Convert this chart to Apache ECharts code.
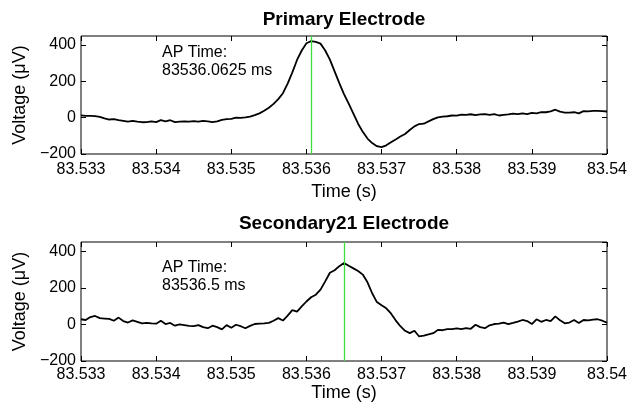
<!DOCTYPE html>
<html>
<head>
<meta charset="utf-8">
<script src="https://cdn.jsdelivr.net/npm/echarts@6/dist/echarts.min.js"></script>
<style>
  html, body { margin: 0; background: #fff; }
  #chart { width: 629px; height: 403px; }
</style>
</head>
<body>
<div id="chart"></div>
<script>
// sampling grid (ms), 16 kHz
const startTime = 83533;
const samplePeriod = 0.0625;

// voltages in µV, one per sample
const primaryVoltage = [
  13, 10, 10, 9, 4, -4, -10, -8, -14, -18,
  -22, -18, -22, -25, -24, -20, -24, -13, -20, -14,
  -24, -22, -20, -22, -19, -22, -18, -20, -24, -20,
  -12, -8, -6, 0, -1, 2, 6, 14, 24, 38,
  55, 76, 102, 135, 188, 250, 318, 370, 410, 422,
  418, 408, 370, 320, 255, 190, 130, 78, 22, -33,
  -78, -115, -140, -157, -162, -152, -135, -120, -104, -90,
  -68, -48, -35, -33, -20, -8, 2, 6, 8, 12,
  11, 17, 16, 19, 14, 18, 20, 15, 20, 12,
  16, 18, 22, 20, 24, 20, 26, 24, 30, 30,
  35, 44, 33, 28, 28, 30, 24, 36, 35, 37,
  38, 36, 34
];
const secondaryVoltage = [
  28, 24, 40, 46, 34, 32, 30, 20, 37, 18,
  10, 22, 14, 6, 8, 5, 4, 20, 2, 8,
  -7, 0, -4, -8, -10, -4, -15, -21, -7, -15,
  -27, -4, -18, -2, -10, -21, -8, 2, 4, 5,
  8, 20, 34, 21, 48, 78, 70, 98, 125, 148,
  162, 190, 235, 282, 296, 318, 335, 320, 306, 292,
  272, 230, 170, 122, 104, 88, 60, 22, -10, -35,
  -48, -35, -66, -62, -55, -48, -30, -32, -26, -26,
  -22, -26, -20, -24, -2, -15, -21, -5, 2, 4,
  10, 2, 8, 15, 24, 18, 2, 28, 14, 24,
  18, 44, 22, 6, 10, 24, 8, 24, 22, 26,
  28, 20, 10
];

// AP detection times (ms)
const primaryApTime = 83536.0625;
const secondaryApTime = 83536.5;

const titles = ['Primary Electrode', 'Secondary21 Electrode'];
const apLabels = ['AP Time:\n83536.0625 ms', 'AP Time:\n83536.5 ms'];

function toPairs(values) {
  return values.map((v, i) => [startTime + i * samplePeriod, v]);
}

const font = "'Liberation Sans', Arial, Helvetica, sans-serif";
const grids = [
  { left: 81, top: 36, width: 526, height: 118 },
  { left: 81, top: 242, width: 526, height: 119 },
];
const timeNameGap = [29, 23];
const timeLabelMargin = [8, 6];

const xAxes = [];
const yAxes = [];
grids.forEach((g, idx) => {
  const tick = { show: true, inside: true, length: 5, lineStyle: { color: '#000', width: 1 } };
  const noLine = { show: false, onZero: false };
  xAxes.push({
    type: 'value', gridIndex: idx, position: 'bottom',
    min: 83533, max: 83540, interval: 1,
    axisLine: noLine, splitLine: { show: false },
    axisTick: tick,
    axisLabel: {
      color: '#000', fontSize: 16, fontFamily: font, margin: timeLabelMargin[idx],
      formatter: (v) => String(Math.round(v) / 1000),
    },
    name: 'Time (s)', nameLocation: 'middle', nameGap: timeNameGap[idx],
    nameTextStyle: { color: '#000', fontSize: 18, fontFamily: font },
  });
  xAxes.push({
    type: 'value', gridIndex: idx, position: 'top',
    min: 83533, max: 83540, interval: 1,
    axisLine: noLine, splitLine: { show: false },
    axisTick: tick, axisLabel: { show: false },
  });
  yAxes.push({
    type: 'value', gridIndex: idx, position: 'left',
    min: -200, max: 450, interval: 200,
    axisLine: noLine, splitLine: { show: false },
    axisTick: tick,
    axisLabel: {
      color: '#000', fontSize: 16, fontFamily: font, margin: 5,
      formatter: (v) => (v < 0 ? '\u2212' + Math.abs(v) : String(v)),
    },
    name: 'Voltage (\u03bcV)', nameLocation: 'middle', nameGap: 50,
    nameTextStyle: { color: '#000', fontSize: 18, fontFamily: font },
  });
  yAxes.push({
    type: 'value', gridIndex: idx, position: 'right',
    min: -200, max: 450, interval: 200,
    axisLine: noLine, splitLine: { show: false },
    axisTick: tick, axisLabel: { show: false },
  });
});

function trace(values, idx, apTime) {
  return {
    type: 'line',
    xAxisIndex: idx * 2,
    yAxisIndex: idx * 2,
    data: toPairs(values),
    showSymbol: false,
    lineStyle: { color: '#000', width: 1.8 },
    z: 3,
    markLine: {
      silent: true,
      symbol: 'none',
      label: { show: false },
      lineStyle: { color: '#40dd40', width: 1.3, type: 'solid' },
      data: [{ xAxis: apTime }],
      z: 4,
    },
  };
}

const chart = echarts.init(document.getElementById('chart'));
chart.setOption({
  backgroundColor: '#fff',
  animation: false,
  grid: grids.map((g) => Object.assign({
    show: true, borderColor: '#000', borderWidth: 1, backgroundColor: 'transparent',
    outerBoundsMode: 'none',
  }, g)),
  xAxis: xAxes,
  yAxis: yAxes,
  series: [
    trace(primaryVoltage, 0, primaryApTime),
    trace(secondaryVoltage, 1, secondaryApTime),
  ],
  graphic: [
    { type: 'text', x: 344, y: 10, style: { text: titles[0], font: 'bold 19px ' + font, fill: '#000', textAlign: 'center' } },
    { type: 'text', x: 344, y: 214, style: { text: titles[1], font: 'bold 19px ' + font, fill: '#000', textAlign: 'center' } },
    { type: 'text', x: 162, y: 44, style: { text: apLabels[0], font: '16px ' + font, fill: '#000', lineHeight: 18 } },
    { type: 'text', x: 162, y: 259, style: { text: apLabels[1], font: '16px ' + font, fill: '#000', lineHeight: 18 } },
  ],
});
</script>
</body>
</html>
